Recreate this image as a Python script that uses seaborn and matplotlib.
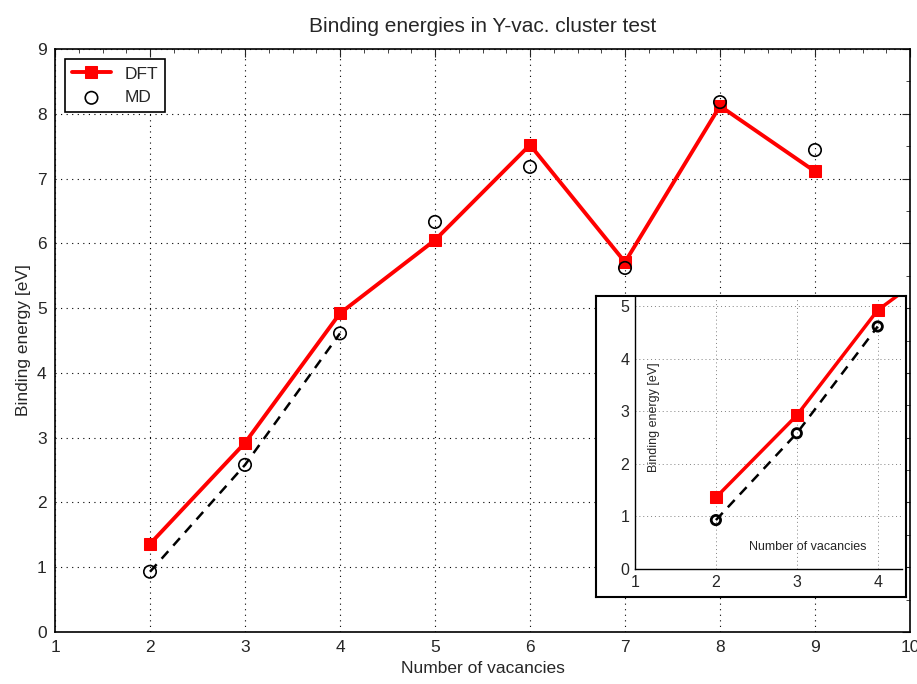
import matplotlib
matplotlib.use("Agg")
import matplotlib.pyplot as plt
import seaborn as sns
import pandas as pd
from matplotlib.ticker import MultipleLocator

vacancies = [2, 3, 4, 5, 6, 7, 8, 9]
dft = [1.36, 2.92, 4.92, 6.05, 7.52, 5.71, 8.12, 7.11]
md = [0.93, 2.58, 4.61, 6.33, 7.18, 5.62, 8.18, 7.44]
md_fit_n = 3  # dashed MD line spans first three points

sns.set_style("white")
plt.rcParams['font.family'] = ['Liberation Sans', 'DejaVu Sans']

df = pd.DataFrame({"n": vacancies, "DFT": dft, "MD": md})
df_fit = df.iloc[:md_fit_n]

fig = plt.figure(figsize=(9.17, 6.84), dpi=100)
ax = fig.add_axes([55/917, 52/684, 855/917, 583/684])

sns.lineplot(data=df, x="n", y="DFT", ax=ax, color="red", lw=2.8, marker="s",
             markersize=9, markeredgecolor="red", label="DFT", zorder=3)
sns.lineplot(data=df_fit, x="n", y="MD", ax=ax, color="black", lw=1.8,
             linestyle=(0, (4, 3)), zorder=2)
sns.scatterplot(data=df, x="n", y="MD", ax=ax, marker="o", s=80,
                facecolor="none", edgecolor="black", linewidth=1.2, label="MD", zorder=4)

ax.set_xlim(1, 10)
ax.set_ylim(0, 9)
ax.xaxis.set_major_locator(MultipleLocator(1))
ax.yaxis.set_major_locator(MultipleLocator(1))
ax.xaxis.set_minor_locator(MultipleLocator(0.25))
ax.yaxis.set_minor_locator(MultipleLocator(0.5))
ax.tick_params(which="both", direction="in", top=True, right=True, labelsize=12.5, pad=6)
ax.tick_params(which="major", length=6)
ax.tick_params(which="minor", length=3)
ax.grid(True, which="major", color="black", linestyle=(0, (1, 4)), lw=0.8)
for s in ax.spines.values():
    s.set_color("black")
    s.set_linewidth(1.2)
ax.set_xlabel("Number of vacancies", fontsize=12.5)
ax.set_ylabel("Binding energy [eV]", fontsize=12.5)
ax.set_title("Binding energies in Y-vac. cluster test", fontsize=15, pad=12)

h, l = ax.get_legend_handles_labels()
leg = ax.legend(h, l, loc="upper left", fontsize=12.5, frameon=True, fancybox=False,
                edgecolor="black", framealpha=1, borderaxespad=0.6, handlelength=2.2)
leg.get_frame().set_linewidth(1.2)

# inset frame
frame = fig.add_axes([596/917, 87/684, 310/917, 301/684])
frame.set_xticks([]); frame.set_yticks([])
frame.set_facecolor("white")
for s in frame.spines.values():
    s.set_color("black")
    s.set_linewidth(1.5)
frame.set_zorder(5)

ins = fig.add_axes([635/917, 115/684, 267/917, 272/684])
ins.set_zorder(6)
ins.patch.set_alpha(0)
sns.lineplot(data=df, x="n", y="DFT", ax=ins, color="red", lw=2.5, marker="s",
             markersize=8, markeredgecolor="red", zorder=3)
sns.lineplot(data=df_fit, x="n", y="MD", ax=ins, color="black", lw=1.8,
             linestyle=(0, (4, 3)), zorder=2)
sns.scatterplot(data=df_fit, x="n", y="MD", ax=ins, marker="o", s=45,
                facecolor="none", edgecolor="black", linewidth=2, zorder=4)
ins.set_xlim(1, 4.3)
ins.set_ylim(0, 5.17)
ins.xaxis.set_major_locator(MultipleLocator(1))
ins.yaxis.set_major_locator(MultipleLocator(1))
ins.xaxis.set_minor_locator(MultipleLocator(0.25))
ins.yaxis.set_minor_locator(MultipleLocator(0.5))
ins.tick_params(which="both", direction="in", labelsize=11.5, pad=4)
ins.tick_params(which="major", length=5)
ins.tick_params(which="minor", length=2.5)
ins.grid(True, which="major", color="gray", linestyle=(0, (1, 3)), lw=0.7)
ins.spines["top"].set_visible(False)
ins.spines["right"].set_visible(False)
for s in ("left", "bottom"):
    ins.spines[s].set_color("black")
    ins.spines[s].set_linewidth(1.0)
ins.set_xlabel("")
ins.set_ylabel("")
ins.text(3.13, 0.42, "Number of vacancies", fontsize=9, ha="center", va="center")
ins.text(1.24, 2.89, "Binding energy [eV]", fontsize=9, ha="center", va="center", rotation=90)

fig.savefig("out.png", dpi=100)
